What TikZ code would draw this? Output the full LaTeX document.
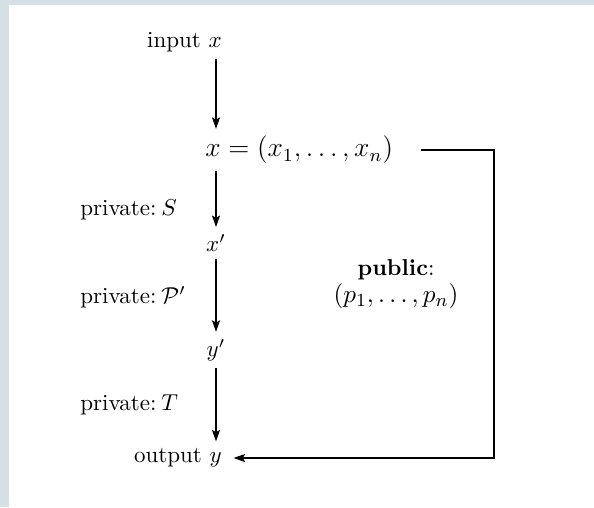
\documentclass[tikz,border=0pt]{standalone}
\usetikzlibrary{arrows.meta}
\definecolor{panelgray}{HTML}{D5E0E6}
\tikzset{
    flow/.style={
        -{Stealth[length=5pt,width=3.5pt,inset=1pt]},
        line width=0.5pt
    },
    lbl/.style={inner sep=3pt},
    bigmath/.style={font=\fontsize{11.5}{14}\selectfont}
}

\begin{document}
\begin{tikzpicture}[x=0.435pt,y=-0.435pt]
\fill[panelgray] (0,0) rectangle (594,507);
\fill[white] (9,5) rectangle (594,507);
\useasboundingbox (0,0) rectangle (594,507);
% main column
\node[lbl, anchor=east] (in) at (229,42) {input $x$};
\node[lbl, bigmath, anchor=west] (xv) at (198,150) {$x=(x_1,\ldots,x_n)$};
\node[lbl] (xp) at (216,243) {$x'$};
\node[lbl] (yp) at (216,350) {$y'$};
\node[lbl, anchor=east] (out) at (229,458) {output $y$};
% side labels
\node[lbl, anchor=west] (privs) at (73,210) {private:\hspace{2.2pt}$S$};
\node[lbl, anchor=west] (privp) at (73,297) {private:\hspace{2.2pt}$\mathcal{P}'$};
\node[lbl, anchor=west] (privt) at (73,405) {private:\hspace{2.2pt}$T$};
\node[lbl, align=center] (pub) at (396,284) {\textbf{public}:\\{\fontsize{11}{13}\selectfont$(p_1,\ldots,p_n)$}};
\coordinate (rt) at (494,148);

\draw[flow] (in.south -| xp) -- (xv.north -| xp);
\draw[flow] (xv.south -| xp) -- (xp);
\draw[flow] (xp) -- (yp);
\draw[flow] (yp) -- (out.north -| xp);
\draw[flow, shorten >=2pt] ([xshift=9pt]xv.east) -- (xv.east -| rt) |- (out.east);
\end{tikzpicture}
\end{document}
